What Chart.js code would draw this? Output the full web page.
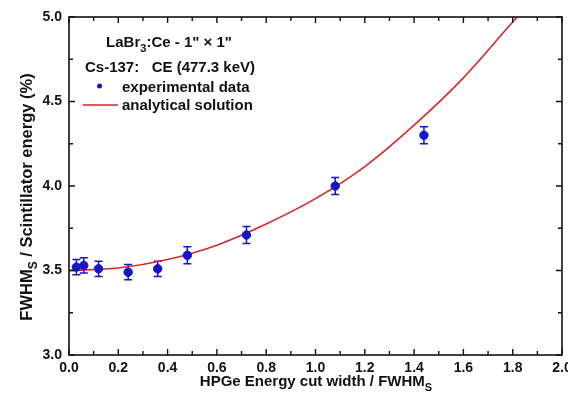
<!DOCTYPE html>
<html>
<head>
<meta charset="utf-8">
<script src="https://cdn.jsdelivr.net/npm/chart.js@4"></script>
<style>
html,body{margin:0;padding:0;background:#fff;}
canvas{display:block;}
</style>
</head>
<body>
<canvas id="c" width="568" height="395"></canvas>
<script>
// ---- data ----
const expX = [0.03, 0.06, 0.12, 0.24, 0.36, 0.48, 0.72, 1.08, 1.44];
const expY = [3.52, 3.53, 3.51, 3.49, 3.51, 3.59, 3.71, 4.00, 4.30];
const expErr = [0.045, 0.045, 0.045, 0.045, 0.045, 0.05, 0.05, 0.05, 0.05];
const curveX = [0, 0.2, 0.4, 0.6, 0.8, 1.0, 1.2, 1.4, 1.6, 1.8, 1.85];
const curveY = [3.50, 3.515, 3.565, 3.65, 3.775, 3.925, 4.115, 4.36, 4.64, 4.97, 5.05];
const xTickValues = [0, 0.2, 0.4, 0.6, 0.8, 1.0, 1.2, 1.4, 1.6, 1.8, 2.0];
const yTickValues = [3.0, 3.5, 4.0, 4.5, 5.0];
const xMinorTicks = [0.1, 0.3, 0.5, 0.7, 0.9, 1.1, 1.3, 1.5, 1.7, 1.9];
const yMinorTicks = [3.25, 3.75, 4.25, 4.75];
const seriesNames = ['experimental data', 'analytical solution'];
const headerLines = ['Cs-137:   CE (477.3 keV)'];

const FONT = '"Liberation Sans", Arial, sans-serif';
const BLUE = '#1414c8';
const RED = '#d02a2a';

function drawRich(ctx, parts, x, y, size, align) {
  let total = 0;
  const widths = parts.map(p => {
    ctx.font = 'bold ' + (p.sub ? Math.round(size * 0.72) : size) + 'px ' + FONT;
    const w = ctx.measureText(p.t).width;
    total += w;
    return w;
  });
  let cx = align === 'center' ? x - total / 2 : (align === 'right' ? x - total : x);
  parts.forEach((p, i) => {
    ctx.font = 'bold ' + (p.sub ? Math.round(size * 0.72) : size) + 'px ' + FONT;
    ctx.fillText(p.t, cx, p.sub ? y + size * 0.3 : y);
    cx += widths[i];
  });
}

const decor = {
  id: 'decor',
  beforeDatasetsDraw(chart) {
    const {ctx, scales: {x, y}} = chart;
    ctx.save();
    ctx.strokeStyle = BLUE;
    ctx.lineWidth = 1.5;
    expX.forEach((vx, i) => {
      const px = x.getPixelForValue(vx);
      const top = y.getPixelForValue(expY[i] + expErr[i]);
      const bot = y.getPixelForValue(expY[i] - expErr[i]);
      ctx.beginPath();
      ctx.moveTo(px, top); ctx.lineTo(px, bot);
      ctx.moveTo(px - 4, top); ctx.lineTo(px + 4, top);
      ctx.moveTo(px - 4, bot); ctx.lineTo(px + 4, bot);
      ctx.stroke();
    });
    ctx.restore();
  },
  afterDraw(chart) {
    const {ctx, chartArea: a, scales: {x, y}} = chart;
    ctx.save();
    ctx.strokeStyle = '#111';
    ctx.lineWidth = 1.6;
    ctx.strokeRect(a.left, a.top, a.right - a.left, a.bottom - a.top);
    ctx.lineWidth = 1.4;
    ctx.beginPath();
    const tickX = (v, len) => {
      const px = x.getPixelForValue(v);
      ctx.moveTo(px, a.bottom); ctx.lineTo(px, a.bottom - len);
      ctx.moveTo(px, a.top); ctx.lineTo(px, a.top + len);
    };
    const tickY = (v, len) => {
      const py = y.getPixelForValue(v);
      ctx.moveTo(a.left, py); ctx.lineTo(a.left + len, py);
      ctx.moveTo(a.right, py); ctx.lineTo(a.right - len, py);
    };
    xTickValues.forEach(v => tickX(v, 6));
    xMinorTicks.forEach(v => tickX(v, 4));
    yTickValues.forEach(v => tickY(v, 6));
    yMinorTicks.forEach(v => tickY(v, 4));
    ctx.stroke();

    ctx.fillStyle = '#111';
    ctx.textBaseline = 'alphabetic';
    drawRich(ctx, [{t: 'HPGe Energy cut width / FWHM'}, {t: 'S', sub: true}], 316, 386, 15, 'center');
    ctx.save();
    ctx.translate(32, 197);
    ctx.rotate(-Math.PI / 2);
    drawRich(ctx, [{t: 'FWHM'}, {t: 'S', sub: true}, {t: ' / Scintillator energy (%)'}], 0, 0, 16.5, 'center');
    ctx.restore();

    ctx.textAlign = 'left';
    drawRich(ctx, [{t: 'LaBr'}, {t: '3', sub: true}, {t: ':Ce - 1" \u00d7 1"'}], 169, 47, 15, 'center');
    drawRich(ctx, [{t: headerLines[0]}], 170, 72, 15, 'center');
    ctx.fillStyle = BLUE;
    ctx.beginPath();
    ctx.arc(99.5, 86, 2.5, 0, Math.PI * 2);
    ctx.fill();
    ctx.fillStyle = '#111';
    drawRich(ctx, [{t: seriesNames[0]}], 122, 92, 15, 'left');
    ctx.strokeStyle = RED;
    ctx.lineWidth = 1.5;
    ctx.beginPath();
    ctx.moveTo(83, 105); ctx.lineTo(118, 105);
    ctx.stroke();
    drawRich(ctx, [{t: seriesNames[1]}], 122, 110, 15, 'left');
    ctx.restore();
  }
};

new Chart(document.getElementById('c'), {
  type: 'scatter',
  data: {
    datasets: [
      {
        label: seriesNames[0],
        data: expX.map((v, i) => ({x: v, y: expY[i]})),
        backgroundColor: BLUE,
        borderColor: BLUE,
        pointRadius: 4.2,
        pointHoverRadius: 4.2,
        showLine: false
      },
      {
        label: seriesNames[1],
        data: curveX.map((v, i) => ({x: v, y: curveY[i]})),
        borderColor: RED,
        backgroundColor: RED,
        borderWidth: 1.6,
        pointRadius: 0,
        showLine: true,
        cubicInterpolationMode: 'monotone'
      }
    ]
  },
  options: {
    responsive: false,
    devicePixelRatio: 1,
    animation: false,
    layout: {padding: {top: 17, right: 6, left: 0, bottom: 0}},
    plugins: {legend: {display: false}, tooltip: {enabled: false}},
    scales: {
      x: {
        type: 'linear', min: 0, max: 2.0,
        grid: {display: false, drawTicks: false},
        border: {display: false},
        afterBuildTicks(s) { s.ticks = xTickValues.map(v => ({value: v})); },
        afterFit(s) { s.height = 40; s.paddingLeft = 0; s.paddingRight = 0; },
        ticks: {
          padding: 5, color: '#111', maxRotation: 0, autoSkip: false,
          font: {family: FONT, size: 14, weight: 'bold'},
          callback: v => Number(v).toFixed(1)
        }
      },
      y: {
        type: 'linear', min: 3.0, max: 5.0,
        grid: {display: false, drawTicks: false},
        border: {display: false},
        afterBuildTicks(s) { s.ticks = yTickValues.map(v => ({value: v})); },
        afterFit(s) { s.width = 69; s.paddingTop = 0; s.paddingBottom = 0; },
        ticks: {
          padding: 7, color: '#111', autoSkip: false,
          font: {family: FONT, size: 14, weight: 'bold'},
          callback: v => Number(v).toFixed(1)
        }
      }
    }
  },
  plugins: [decor]
});
</script>
</body>
</html>
